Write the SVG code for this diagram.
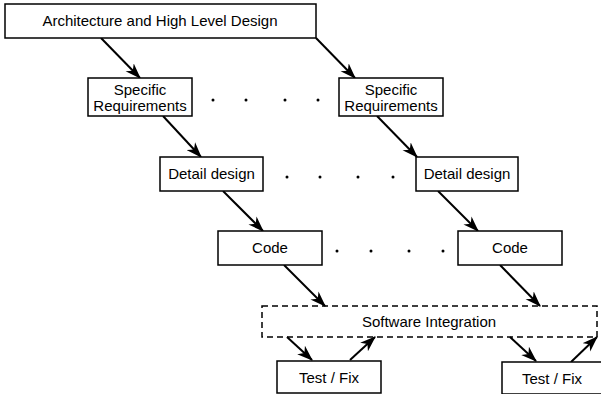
<svg xmlns="http://www.w3.org/2000/svg" width="601" height="394" viewBox="0 0 601 394">
<defs>
<style>
.box{fill:#fff;stroke:#000;stroke-width:1.5}
.dash{fill:none;stroke:#000;stroke-width:1.5;stroke-dasharray:6,4}
.t{font-family:"Liberation Sans",Arial,sans-serif;font-size:15px;fill:#000;text-anchor:middle}
.c{stroke:#000;stroke-width:2;fill:none;marker-end:url(#ah)}
.dot{fill:#000}
</style>
<marker id="ah" viewBox="0 0 14 10" refX="13" refY="5" markerWidth="8" markerHeight="6" orient="auto" markerUnits="strokeWidth">
<path d="M0,0 L14,5 L0,10 L4,5 z" fill="#000"/>
</marker>
</defs>
<rect width="601" height="394" fill="#fff"/>
<g id="connectors">
<line class="c" x1="101" y1="38" x2="140" y2="78"/>
<line class="c" x1="316" y1="38" x2="355" y2="78"/>
<line class="c" x1="163" y1="116" x2="201" y2="157"/>
<line class="c" x1="377" y1="116" x2="417" y2="157"/>
<line class="c" x1="223" y1="191" x2="263" y2="231"/>
<line class="c" x1="438" y1="191" x2="478" y2="231"/>
<line class="c" x1="284" y1="265" x2="325" y2="306"/>
<line class="c" x1="500" y1="265" x2="540" y2="306"/>
<line class="c" x1="287" y1="337" x2="312" y2="360"/>
<line class="c" x1="350" y1="360" x2="375" y2="337"/>
<line class="c" x1="510" y1="337" x2="536" y2="361"/>
<line class="c" x1="571" y1="362" x2="597" y2="337"/>
</g>
<g id="dots">
<circle class="dot" cx="213" cy="100" r="1.5"/><circle class="dot" cx="246" cy="100" r="1.5"/><circle class="dot" cx="285" cy="100" r="1.5"/><circle class="dot" cx="318" cy="100" r="1.5"/>
<circle class="dot" cx="287" cy="177" r="1.5"/><circle class="dot" cx="320" cy="177" r="1.5"/><circle class="dot" cx="358" cy="177" r="1.5"/><circle class="dot" cx="393" cy="177" r="1.5"/>
<circle class="dot" cx="337" cy="251" r="1.5"/><circle class="dot" cx="371" cy="251" r="1.5"/><circle class="dot" cx="409" cy="251" r="1.5"/><circle class="dot" cx="443" cy="251" r="1.5"/>
</g>
<g id="arch"><rect class="box" x="5" y="4" width="311" height="34"/><text class="t" x="160" y="26">Architecture and High Level Design</text></g>
<g id="spec1"><rect class="box" x="88" y="78" width="104" height="38"/><text class="t" x="140" y="95">Specific</text><text class="t" x="140" y="111">Requirements</text></g>
<g id="spec2"><rect class="box" x="339" y="78" width="104" height="38"/><text class="t" x="391" y="95">Specific</text><text class="t" x="391" y="111">Requirements</text></g>
<g id="detail1"><rect class="box" x="160" y="157" width="103" height="34"/><text class="t" x="211.5" y="179">Detail design</text></g>
<g id="detail2"><rect class="box" x="416" y="157" width="102" height="34"/><text class="t" x="467" y="179">Detail design</text></g>
<g id="code1"><rect class="box" x="218" y="231" width="104" height="34"/><text class="t" x="270" y="253">Code</text></g>
<g id="code2"><rect class="box" x="458" y="231" width="104" height="34"/><text class="t" x="510" y="253">Code</text></g>
<g id="integration"><rect class="dash" x="262" y="306" width="335" height="31"/><text class="t" x="429" y="327">Software Integration</text></g>
<g id="test1"><rect class="box" x="277" y="361" width="104" height="32"/><text class="t" x="329" y="383">Test / Fix</text></g>
<g id="test2"><rect class="box" x="502" y="362" width="104" height="32"/><text class="t" x="552" y="384">Test / Fix</text></g>
</svg>
